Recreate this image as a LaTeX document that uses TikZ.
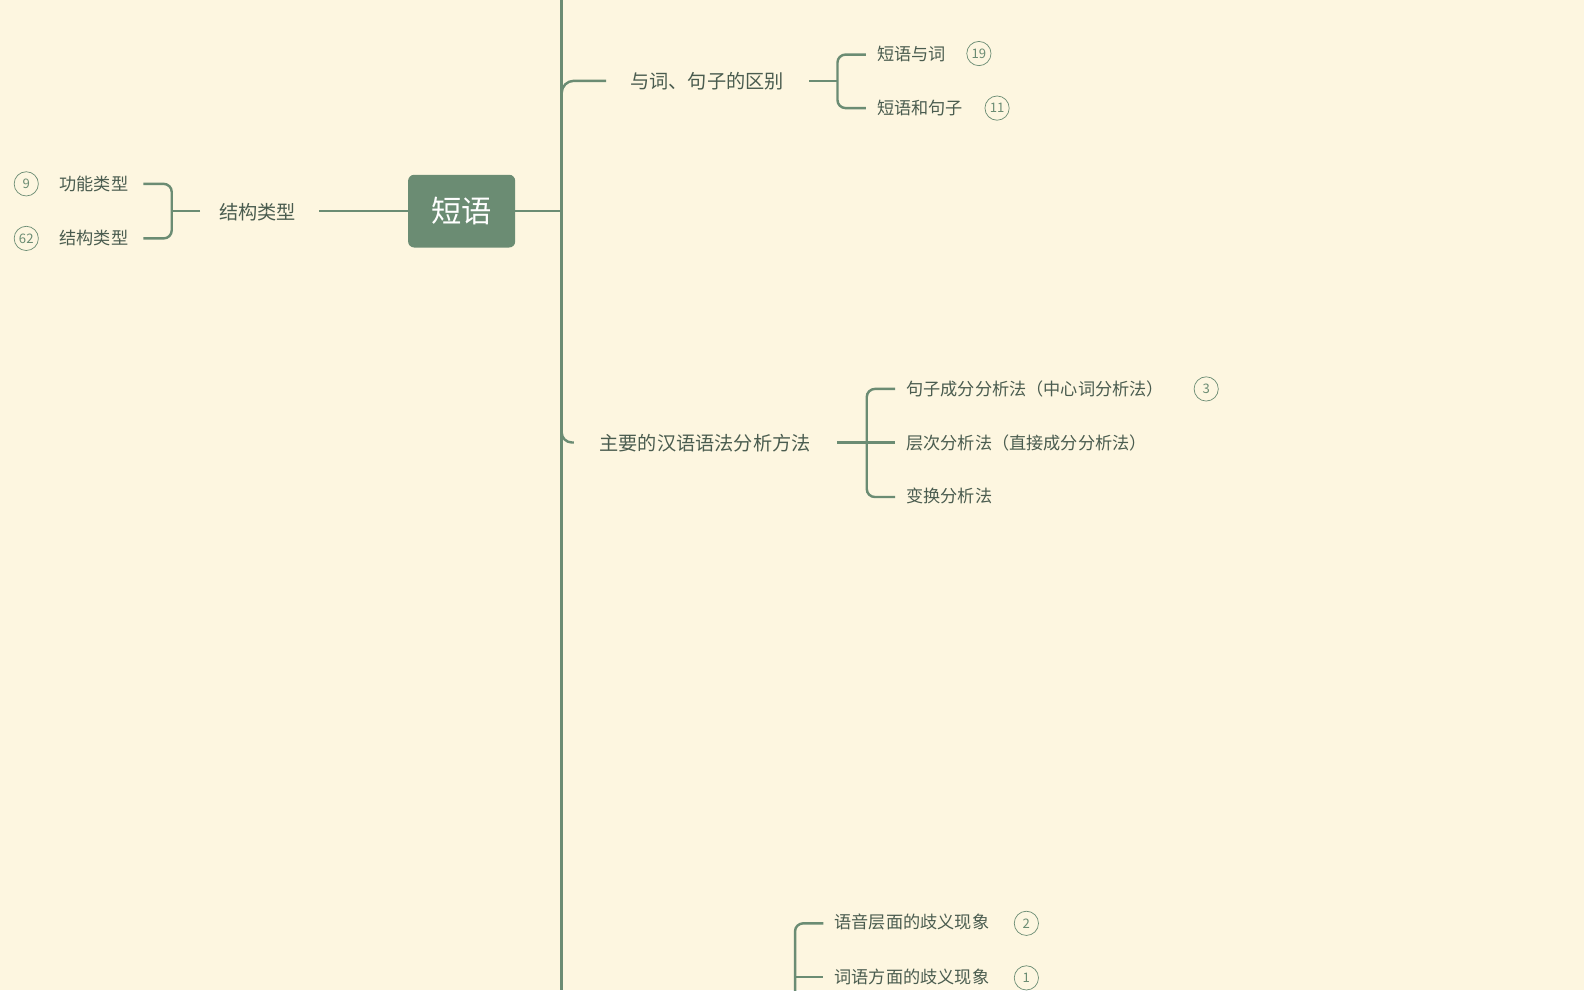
\documentclass[tikz,border=0pt]{standalone}
\usepackage{fontspec}
\setmainfont{Noto Sans CJK SC}
\definecolor{bg}{HTML}{FDF6E0}
\definecolor{ln}{HTML}{6B8C73}
\definecolor{tx}{HTML}{4A5C4F}
\begin{document}
\begin{tikzpicture}[x=1pt,y=-1pt,
  l/.style={draw=ln,line width=2.4pt},
  br/.style={l,rounded corners=8pt},
  t1/.style={text=tx,font=\fontsize{19}{19}\selectfont,inner sep=0pt},
  t2/.style={text=tx,font=\fontsize{17}{17}\selectfont,inner sep=0pt,anchor=west},
  num/.style={circle,draw=ln,line width=0.7pt,text=ln,minimum size=24pt,inner sep=0pt,font=\fontsize{13}{13}\selectfont}]
\fill[bg] (0,0) rectangle (1568,980);
\useasboundingbox (0,0) rectangle (1568,980);
% root
\node[fill=ln,rounded corners=6pt,minimum width=106pt,minimum height=72pt,text=white,font=\fontsize{30}{30}\selectfont] (root) at (457,209) {短语};
\coordinate (vt) at (556,0); \coordinate (vb) at (556,980);
\draw[l] (vt) -- (vb);
\draw[l] (root.east) -- (556,209);
% left
\node[t1] (jg) at (255,210) {结构类型};
\draw[l] (root.west) -- (316,209);
\draw[br] (198,209) -- (170,209);
\draw[br] (142,182) -| (170,236) -- (142,236);
\node[t2,anchor=center] (gn) at (93,182) {功能类型};
\node[t2,anchor=center] (jg2) at (93,236) {结构类型};
\node[num] (n9) at (26,182) {9};
\node[num] (n62) at (26,236) {62};
% top branch
\node[t1] (b1) at (700,80) {与词、句子的区别};
\draw[br,rounded corners=12pt] (556,105) |- (600,80);
\draw[l] (801,80) -- (829,80);
\draw[br] (857,54) -| (829,107) -- (857,107);
\node[t2] (a1) at (868,53) {短语与词};
\node[num] (n19) at (969,53) {19};
\node[t2] (a2) at (868,107) {短语和句子};
\node[num] (n11) at (987,107) {11};
% mid branch
\node[t1] (b2) at (698,439) {主要的汉语语法分析方法};
\draw[br,rounded corners=10pt] (556,420) |- (568,438);
\draw[l] (829,438) -- (858,438);
\draw[br] (886,385) -| (858,492) -- (886,492);
\draw[l] (858,438) -- (886,438);
\node[t2] (c1) at (897,385) {句子成分分析法（中心词分析法）};
\node[num] (n3) at (1194,385) {3};
\node[t2] (c2) at (897,438) {层次分析法（直接成分分析法）};
\node[t2] (c3) at (897,491) {变换分析法};
% bottom
\draw[br] (815,914) -| (787,985);
\draw[l] (787,967) -- (815,967);
\node[t2] (d1) at (826,913) {语音层面的歧义现象};
\node[num] (n2) at (1016,914) {2};
\node[t2] (d2) at (826,967) {词语方面的歧义现象};
\node[num] (n1) at (1016,968) {1};
\end{tikzpicture}
\end{document}
